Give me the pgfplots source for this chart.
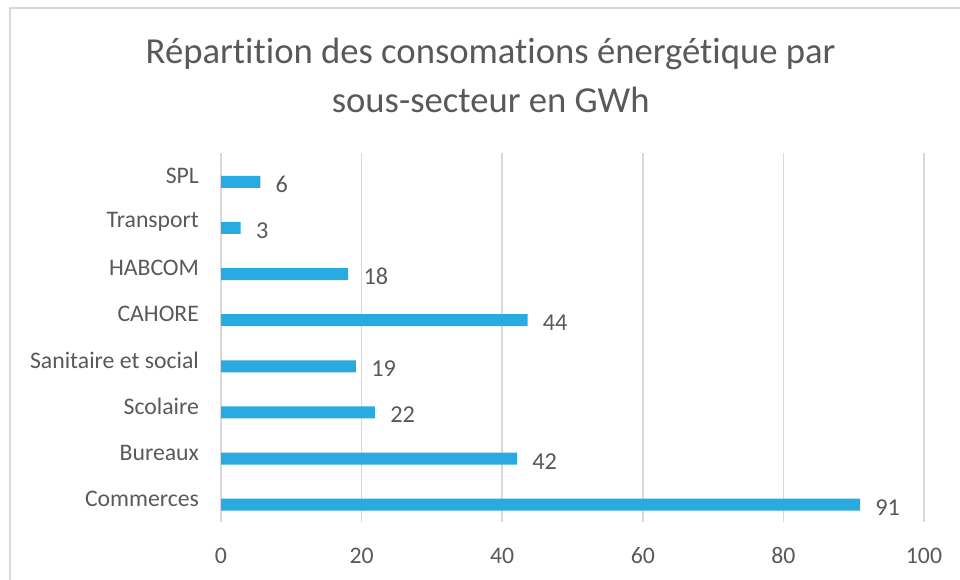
\documentclass[border=0pt]{standalone}
\usepackage{pgfplots}
\pgfplotsset{compat=1.18}
\usepackage{fontspec}
\setmainfont{Carlito}[Ligatures=NoCommon, RawFeature={-liga;-dlig;-clig}]
\definecolor{txt}{HTML}{595959}
\definecolor{gridc}{HTML}{D9D9D9}
\definecolor{barc}{HTML}{29ABE2}
\begin{document}
\begin{tikzpicture}
\useasboundingbox (0,0) rectangle (720pt,-435pt);
\draw[gridc, line width=1.1pt] (7.5pt,-435pt) -- (7.5pt,-6pt) -- (720pt,-6pt);
\node[txt, font=\fontsize{27.5}{33}\selectfont, anchor=base] at (368pt,-47.3pt) {Répartition des consomations énergétique par};
\node[txt, font=\fontsize{27.5}{33}\selectfont, anchor=base] at (368pt,-84.5pt) {sous-secteur en GWh};
\begin{axis}[
  at={(165.75pt,-391.3pt)}, anchor=south west,
  scale only axis, width=527.25pt, height=276.75pt,
  xbar, bar width=9pt, bar shift=-4.5pt,
  xmin=0, xmax=100, ymin=-0.5, ymax=7.5,
  xtick={0,20,40,60,80,100},
  ytick={0,1,2,3,4,5,6,7},
  yticklabels={Commerces,Bureaux,Scolaire,Sanitaire et social,CAHORE,HABCOM,Transport,SPL},
  xmajorgrids, major grid style={gridc, line width=1.1pt},
  axis line style={draw=none},
  major tick length=0pt,
  tick label style={txt, font=\fontsize{17.8}{20}\selectfont},
  /pgf/number format/assume math mode=true,
  xticklabel style={yshift=-16pt},
  yticklabel style={xshift=-13pt},
  nodes near coords,
  nodes near coords style={txt, font=\fontsize{18.2}{20}\selectfont, anchor=west, xshift=8pt, yshift=-2pt,
    /pgf/number format/.cd, fixed, precision=0, assume math mode=true},
  clip=false,
]
\addplot[fill=barc, draw=none] coordinates {
(90.9,0) (42.1,1) (21.9,2) (19.2,3) (43.6,4) (18.1,5) (2.8,6) (5.6,7)
};
\end{axis}
\end{tikzpicture}
\end{document}
